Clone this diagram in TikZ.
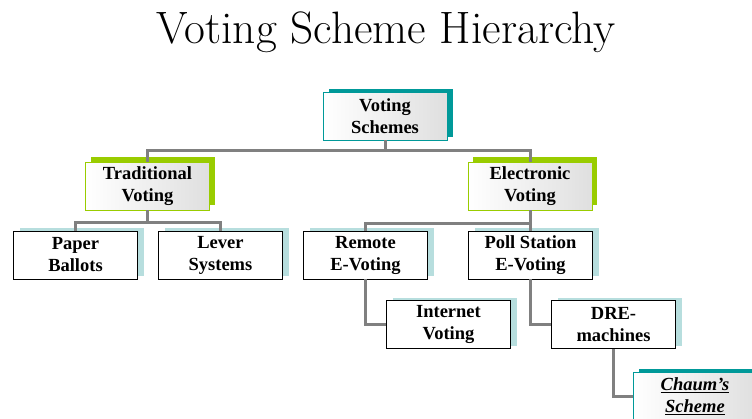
\documentclass[tikz,border=0pt]{standalone}
\usepackage{fontspec}
\newfontfamily\boxfont{Liberation Serif}
\usetikzlibrary{shadows}
\definecolor{tealc}{HTML}{009999}
\definecolor{greenc}{HTML}{99CC00}
\definecolor{lblue}{HTML}{B7DEDE}
\definecolor{connc}{HTML}{808080}
\tikzset{
  basebox/.style={minimum width=124pt, minimum height=48pt, inner sep=0pt, align=center,
    font=\boxfont\bfseries\fontsize{18.5}{22}\selectfont},
  tealbox/.style={basebox, draw=tealc, line width=0.8pt, left color=white, right color=gray!25,
    drop shadow={shadow xshift=6pt, shadow yshift=3pt, fill=tealc, opacity=1}},
  greenbox/.style={basebox, draw=greenc, line width=0.8pt, left color=white, right color=gray!25,
    drop shadow={shadow xshift=5pt, shadow yshift=5pt, fill=greenc, opacity=1}},
  bluebox/.style={basebox, draw=black, line width=0.8pt, fill=white,
    drop shadow={shadow xshift=6pt, shadow yshift=3pt, fill=lblue, opacity=1}},
  conn/.style={draw=connc, line width=3pt},
}
\begin{document}
\begin{tikzpicture}[x=1pt,y=-1pt]
\useasboundingbox (0,0) rectangle (752,418);
\node[anchor=base, font=\fontsize{45.4}{52}\selectfont] (title) at (386,43) {Voting Scheme Hierarchy};

\node[tealbox] (vs) at (385,116) {Voting\\Schemes};
\node[greenbox] (tv) at (147.5,186) {Traditional\\Voting};
\node[greenbox] (ev) at (530,186) {Electronic\\Voting};
\node[bluebox] (pb) at (75.5,255) {Paper\\Ballots};
\node[bluebox] (ls) at (220.5,255) {Lever\\Systems};
\node[bluebox] (re) at (365.5,255) {Remote\\E-Voting};
\node[bluebox] (ps) at (530.5,255) {Poll Station\\E-Voting};
\node[bluebox] (iv) at (448.5,324.5) {Internet\\Voting};
\node[bluebox] (dm) at (613.5,324.5) {DRE-\\machines};
\node[tealbox, font=\boxfont\bfseries\itshape\fontsize{18.5}{22}\selectfont] (cs) at (695,396) {\underline{Chaum’s}\\\underline{Scheme}};

\draw[conn] (vs.south) -- ([yshift=-10pt]vs.south);
\draw[conn] (tv.north) |- ([yshift=-10pt]vs.south) -| (ev.north);
\draw[conn] (tv.south) -- ([yshift=-12pt]tv.south);
\draw[conn] (pb.north) |- ([yshift=-12pt]tv.south) -| (ls.north);
\draw[conn] (ev.south) -- ([yshift=-13pt]ev.south);
\draw[conn] (re.north) |- ([yshift=-13pt]ev.south) -| (ps.north);
\draw[conn] (re.south) |- (iv.west);
\draw[conn] (ps.south) |- (dm.west);
\draw[conn] (dm.south) |- (cs.west);
\end{tikzpicture}
\end{document}
